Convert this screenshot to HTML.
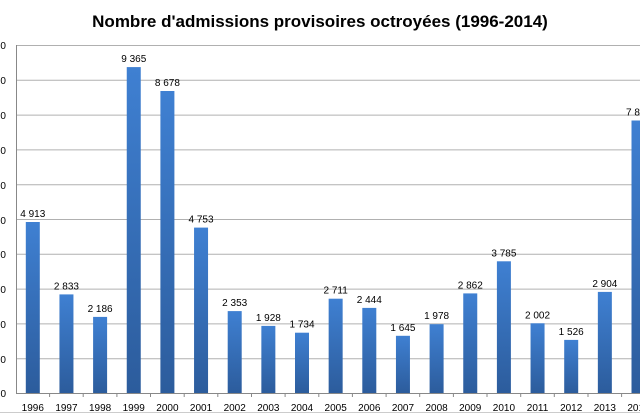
<!DOCTYPE html>
<html><head><meta charset="utf-8"><style>body{margin:0;background:#fff}svg{display:block}</style></head><body>
<svg width="640" height="420" xmlns="http://www.w3.org/2000/svg" font-family="Liberation Sans, sans-serif">
<defs><linearGradient id="g" x1="0" y1="0" x2="0" y2="1"><stop offset="0" stop-color="#3f80d2"/><stop offset="1" stop-color="#2c5c9c"/></linearGradient></defs>
<text x="320" y="27" text-anchor="middle" font-size="17" font-weight="bold">Nombre d'admissions provisoires octroyées (1996-2014)</text>
<g stroke="#b0b0b0" stroke-width="1">
<line x1="16" y1="45.5" x2="640" y2="45.5"/><line x1="16" y1="80.3" x2="640" y2="80.3"/><line x1="16" y1="115.1" x2="640" y2="115.1"/><line x1="16" y1="149.9" x2="640" y2="149.9"/><line x1="16" y1="184.7" x2="640" y2="184.7"/><line x1="16" y1="219.5" x2="640" y2="219.5"/><line x1="16" y1="254.3" x2="640" y2="254.3"/><line x1="16" y1="289.1" x2="640" y2="289.1"/><line x1="16" y1="323.9" x2="640" y2="323.9"/><line x1="16" y1="358.7" x2="640" y2="358.7"/>
<line x1="16" y1="393.5" x2="640" y2="393.5" stroke="#888"/><line x1="16.5" y1="45" x2="16.5" y2="394" stroke="#888"/>
<line x1="0" y1="412.5" x2="640" y2="412.5" stroke="#ccc"/>
<g stroke="#888">
<line x1="49.6" y1="393" x2="49.6" y2="397"/><line x1="83.2" y1="393" x2="83.2" y2="397"/><line x1="116.9" y1="393" x2="116.9" y2="397"/><line x1="150.5" y1="393" x2="150.5" y2="397"/><line x1="184.2" y1="393" x2="184.2" y2="397"/><line x1="217.8" y1="393" x2="217.8" y2="397"/><line x1="251.5" y1="393" x2="251.5" y2="397"/><line x1="285.1" y1="393" x2="285.1" y2="397"/><line x1="318.8" y1="393" x2="318.8" y2="397"/><line x1="352.4" y1="393" x2="352.4" y2="397"/><line x1="386.1" y1="393" x2="386.1" y2="397"/><line x1="419.7" y1="393" x2="419.7" y2="397"/><line x1="453.4" y1="393" x2="453.4" y2="397"/><line x1="487" y1="393" x2="487" y2="397"/><line x1="520.7" y1="393" x2="520.7" y2="397"/><line x1="554.3" y1="393" x2="554.3" y2="397"/><line x1="588" y1="393" x2="588" y2="397"/><line x1="621.6" y1="393" x2="621.6" y2="397"/>
</g>
</g>
<g font-size="10" text-anchor="end">
<text x="6" y="49">1000</text><text x="6" y="84">9000</text><text x="6" y="119">8000</text><text x="6" y="154">7000</text><text x="6" y="189">6000</text><text x="6" y="224">5000</text><text x="6" y="258">4000</text><text x="6" y="293">3000</text><text x="6" y="328">2000</text><text x="6" y="363">1000</text><text x="6" y="397">0</text>
</g>
<g fill="url(#g)">
<rect x="25.8" y="222" width="14" height="171"/>
<rect x="59.45" y="294.4" width="14" height="98.6"/>
<rect x="93.1" y="316.9" width="14" height="76.1"/>
<rect x="126.75" y="67.1" width="14" height="325.9"/>
<rect x="160.4" y="91" width="14" height="302"/>
<rect x="194.05" y="227.6" width="14" height="165.4"/>
<rect x="227.7" y="311.1" width="14" height="81.9"/>
<rect x="261.35" y="325.9" width="14" height="67.1"/>
<rect x="295" y="332.7" width="14" height="60.3"/>
<rect x="328.65" y="298.7" width="14" height="94.3"/>
<rect x="362.3" y="307.9" width="14" height="85.1"/>
<rect x="395.95" y="335.8" width="14" height="57.2"/>
<rect x="429.6" y="324.2" width="14" height="68.8"/>
<rect x="463.25" y="293.4" width="14" height="99.6"/>
<rect x="496.9" y="261.3" width="14" height="131.7"/>
<rect x="530.55" y="323.3" width="14" height="69.7"/>
<rect x="564.2" y="339.9" width="14" height="53.1"/>
<rect x="597.85" y="291.9" width="14" height="101.1"/>
<rect x="631.5" y="120.5" width="14" height="272.5"/>
</g>
<g font-size="10" text-anchor="middle">
<text x="32.8" y="217">4 913</text><text x="66.45" y="289.4">2 833</text><text x="100.1" y="311.9">2 186</text><text x="133.75" y="62.1">9 365</text><text x="167.4" y="86">8 678</text><text x="201.05" y="222.6">4 753</text><text x="234.7" y="306.1">2 353</text><text x="268.35" y="320.9">1 928</text><text x="302" y="327.7">1 734</text><text x="335.65" y="293.7">2 711</text><text x="369.3" y="302.9">2 444</text><text x="402.95" y="330.8">1 645</text><text x="436.6" y="319.2">1 978</text><text x="470.25" y="288.4">2 862</text><text x="503.9" y="256.3">3 785</text><text x="537.55" y="318.3">2 002</text><text x="571.2" y="334.9">1 526</text><text x="604.85" y="286.9">2 904</text><text x="638.5" y="115.5">7 830</text>
</g>
<g font-size="10" text-anchor="middle">
<text x="32.8" y="411">1996</text><text x="66.45" y="411">1997</text><text x="100.1" y="411">1998</text><text x="133.75" y="411">1999</text><text x="167.4" y="411">2000</text><text x="201.05" y="411">2001</text><text x="234.7" y="411">2002</text><text x="268.35" y="411">2003</text><text x="302" y="411">2004</text><text x="335.65" y="411">2005</text><text x="369.3" y="411">2006</text><text x="402.95" y="411">2007</text><text x="436.6" y="411">2008</text><text x="470.25" y="411">2009</text><text x="503.9" y="411">2010</text><text x="537.55" y="411">2011</text><text x="571.2" y="411">2012</text><text x="604.85" y="411">2013</text><text x="638.5" y="411">2014</text>
</g>
</svg>
</body></html>
